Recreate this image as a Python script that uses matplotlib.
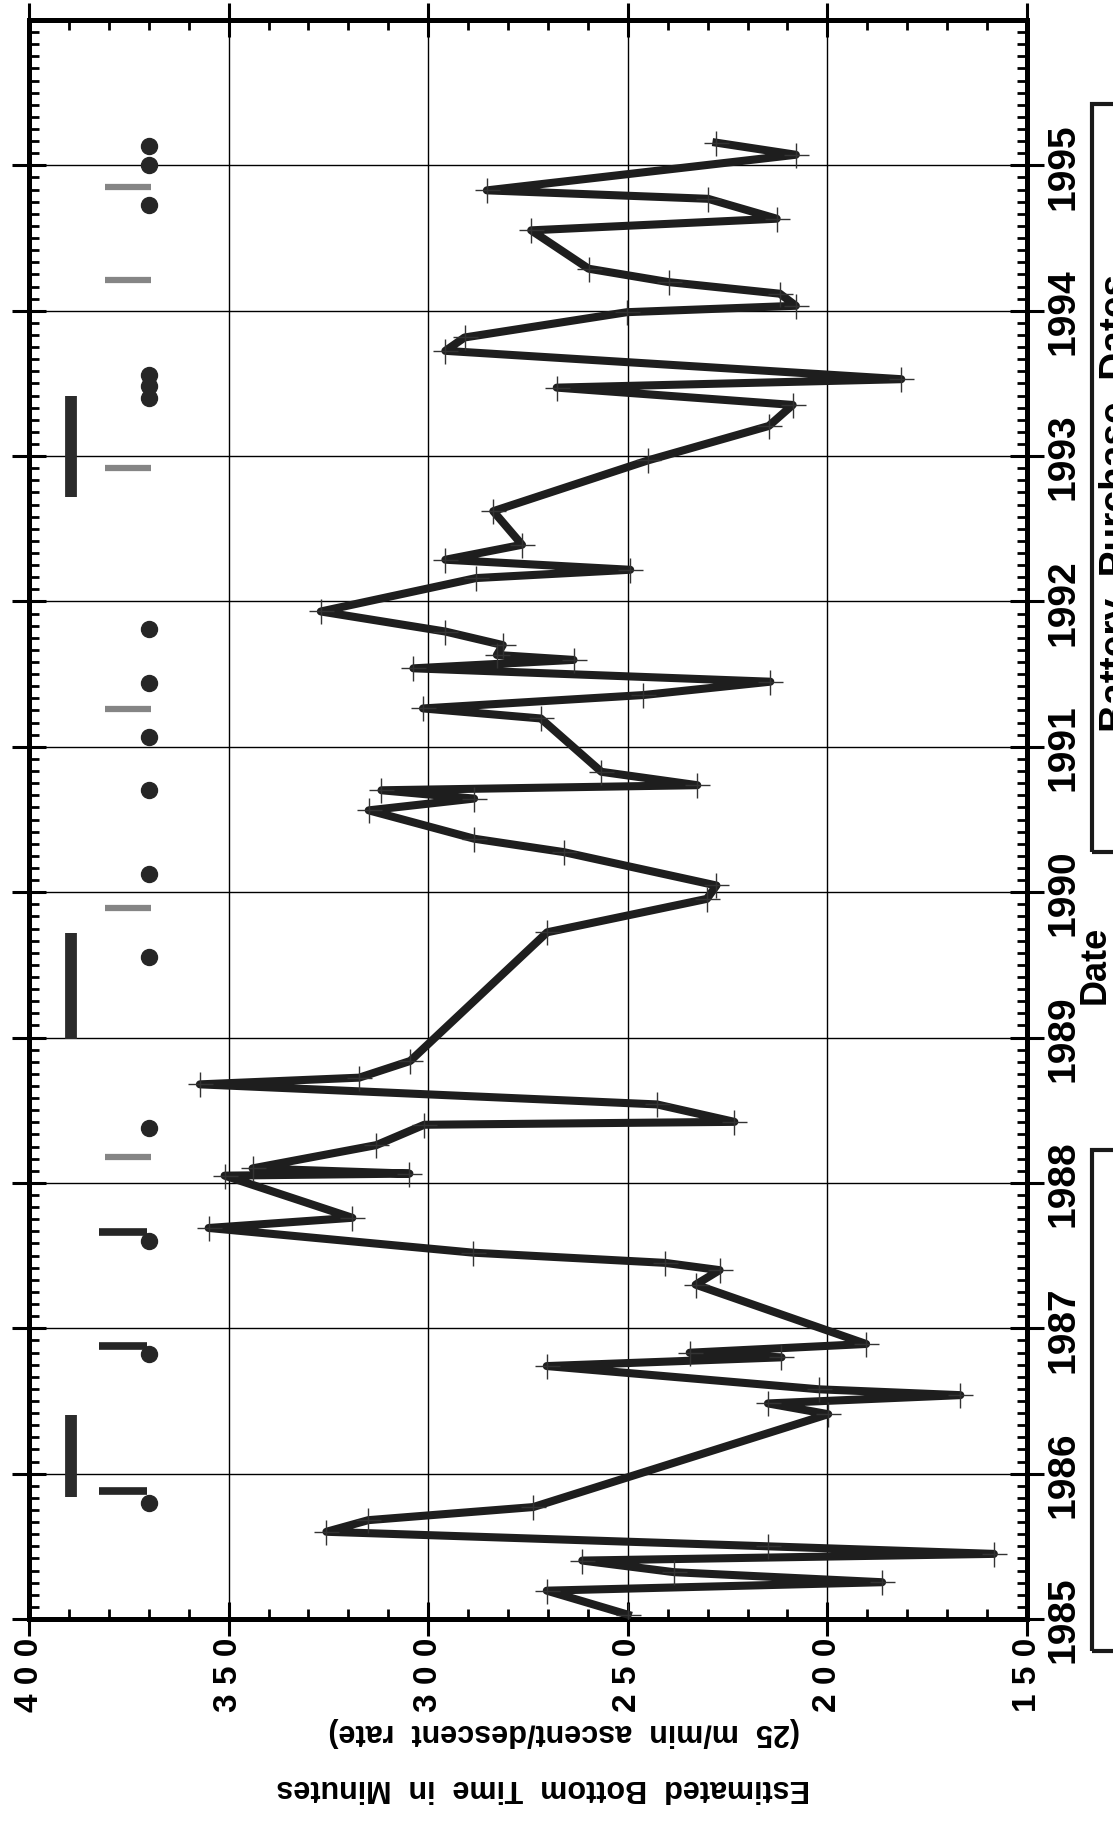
import matplotlib
matplotlib.use('Agg')
import matplotlib.pyplot as plt
from matplotlib.ticker import MultipleLocator, FixedLocator
from matplotlib.patches import Rectangle

# dive log: date (decimal year) vs estimated bottom time (minutes)
dates = [1985.03, 1985.195, 1985.253, 1985.322, 1985.402, 1985.448, 1985.50,
         1985.60, 1985.68, 1985.77, 1986.409, 1986.483, 1986.54, 1986.58,
         1986.74, 1986.80, 1986.832, 1986.892, 1987.30, 1987.40, 1987.45,
         1987.52, 1987.69, 1987.76, 1988.05, 1988.064, 1988.10, 1988.26,
         1988.40, 1988.42, 1988.54, 1988.678, 1988.724, 1988.839, 1989.724,
         1989.954, 1990.046, 1990.276, 1990.368, 1990.563, 1990.644, 1990.701,
         1990.736, 1990.828, 1991.195, 1991.264, 1991.356, 1991.448, 1991.54,
         1991.598, 1991.632, 1991.70, 1991.793, 1991.931, 1992.161, 1992.218,
         1992.287, 1992.39, 1992.621, 1992.97, 1993.207, 1993.352, 1993.471,
         1993.529, 1993.724, 1993.816, 1993.99, 1994.034, 1994.117, 1994.197,
         1994.289, 1994.553, 1994.633, 1994.77, 1994.828, 1995.073, 1995.156]
bottom_time = [250.0, 270.3, 186.3, 238.4, 261.4, 158.3, 214.9,
               325.5, 315.0, 273.7, 199.8, 214.9, 166.7, 202.0,
               270.3, 211.5, 234.5, 190.3, 233.0, 227.0, 240.7,
               288.7, 355.0, 319.0, 351.0, 304.7, 344.0, 313.0,
               301.0, 223.3, 242.7, 357.2, 317.3, 304.5, 270.2,
               230.2, 227.8, 266.1, 288.5, 314.9, 288.5, 311.7,
               232.6, 256.6, 271.8, 301.3, 246.2, 214.3, 303.7,
               263.6, 282.8, 281.3, 295.7, 326.9, 288.0, 249.4,
               295.7, 276.5, 283.7, 245.0, 214.7, 208.7, 267.8,
               181.5, 295.7, 290.9, 250.2, 207.9, 211.9, 239.8,
               259.8, 274.2, 212.7, 229.9, 285.3, 207.9, 227.8]

# markers along the left side
bar_start = [1985.84, 1988.99, 1992.72]
bar_end = [1986.40, 1989.72, 1993.41]
grey_dash_dates = [1988.18, 1989.89, 1991.26, 1992.92, 1994.21, 1994.85]
black_dash_dates = [1985.88, 1986.88, 1987.66]
dot_dates = [1985.80, 1986.82, 1987.60, 1988.38, 1989.556, 1990.122, 1990.701,
             1991.069, 1991.441, 1991.809, 1993.40, 1993.48, 1993.56,
             1994.73, 1995.00, 1995.13]

value_ticks = [400, 350, 300, 250, 200, 150]
value_labels = ['4 0 0', '3 5 0', '3 0 0', '2 5 0', '2 0 0', '1 5 0']
year_ticks = list(range(1985, 1996))

narrow = ['Liberation Sans Narrow', 'Liberation Sans', 'DejaVu Sans']
plt.rcParams['font.family'] = ['Liberation Sans', 'DejaVu Sans']
plt.rcParams['font.weight'] = 'bold'

fig = plt.figure(figsize=(11.13, 18.24), dpi=100)
ax = fig.add_axes([29/1113, (1824-1620)/1824, 998/1113, 1599/1824])

ax.plot(bottom_time, dates, color='#1e1e1e', lw=5.8, solid_joinstyle='round', zorder=3)
ax.plot(bottom_time, dates, '+', ms=18, mew=1, color='#333333', zorder=4)

for d0, d1 in zip(bar_start, bar_end):
    ax.plot([389.5, 389.5], [d0, d1], lw=8.5, color='#2b2b2b', solid_capstyle='butt')
for d in grey_dash_dates:
    ax.plot([381, 369.5], [d, d], lw=4.5, color='#858585', solid_capstyle='butt')
for d in black_dash_dates:
    ax.plot([382.5, 370.5], [d, d], lw=5.5, color='#262626', solid_capstyle='butt')
ax.plot([370]*len(dot_dates), dot_dates, 'o', ms=11.5, color='#262626', lw=0)

ax.set_xlim(400, 150)
ax.set_ylim(1985, 1996)
ax.xaxis.set_major_locator(FixedLocator(value_ticks))
ax.xaxis.set_minor_locator(MultipleLocator(10))
ax.yaxis.set_major_locator(FixedLocator(year_ticks))
ax.yaxis.set_minor_locator(MultipleLocator(1/12))
ax.set_xticklabels(value_labels, rotation=90, fontsize=24, fontweight='bold', family=narrow)
ax.set_yticklabels([str(y) for y in year_ticks], rotation=90, va='center',
                   fontsize=28, fontweight='bold')

ax.grid(which='major', color='black', lw=1)
ax.tick_params(which='major', direction='inout', length=24, width=2.2, pad=1,
               top=True, right=True, left=True, bottom=True,
               labelbottom=True, labelright=True, labelleft=False, labeltop=False)
ax.tick_params(which='minor', direction='in', length=7, width=2,
               top=True, right=True, left=True, bottom=True)
for s in ax.spines.values():
    s.set_linewidth(3.6)

fig.text(543/1113, (1824-1788)/1824, 'Estimated  Bottom  Time  in  Minutes',
         rotation=180, ha='center', va='center', fontsize=22, fontweight='bold')
fig.text(564/1113, (1824-1732)/1824, '(25  m/min  ascent/descent  rate)',
         rotation=180, ha='center', va='center', fontsize=22, fontweight='bold')
fig.text(1095/1113, (1824-965)/1824, 'Date', rotation=90, ha='center', va='center',
         fontsize=26, fontweight='bold', family=narrow)

fig.add_artist(Rectangle((1092/1113, (1824-853)/1824), 0.2, (853-105)/1824,
                         transform=fig.transFigure, fill=False, lw=3, color='#1a1a1a'))
fig.add_artist(Rectangle((1092/1113, (1824-1652)/1824), 0.2, (1652-1151)/1824,
                         transform=fig.transFigure, fill=False, lw=3, color='#1a1a1a'))
# legend text runs off the right edge of the page, as in the scan
fig.text(1099/1113, (1824-503)/1824, 'Battery  Purchase  Dates', rotation=90,
         ha='left', va='center', fontsize=28, fontweight='bold', family=narrow)

fig.savefig('out.png', dpi=100)
